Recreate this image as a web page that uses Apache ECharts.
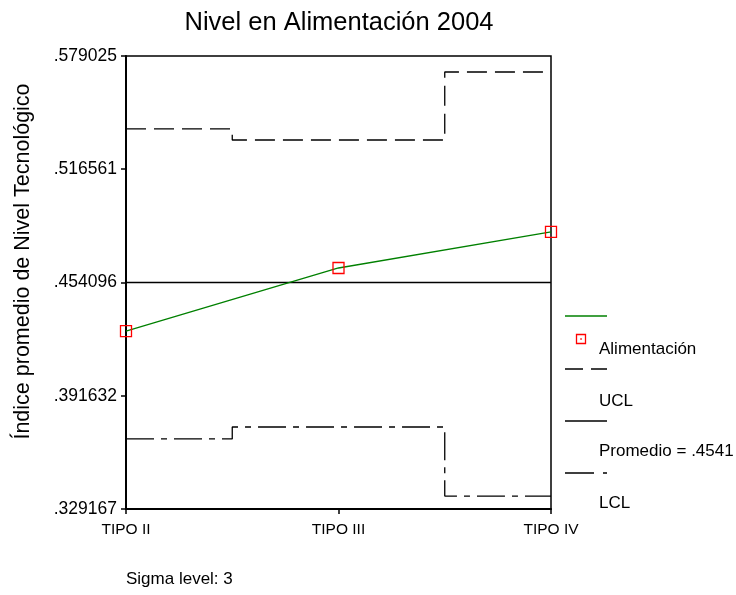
<!DOCTYPE html>
<html><head><meta charset="utf-8">
<script src="https://cdn.jsdelivr.net/npm/echarts@6/dist/echarts.min.js"></script>
<style>html,body{margin:0;padding:0;background:#fff}#c{width:736px;height:595px}</style>
</head><body><div id="c"></div>
<script>
const categories = ['TIPO II', 'TIPO III', 'TIPO IV'];
const alimentacion = [0.4273, 0.4621, 0.4820];
const ucl = [0.5388, 0.5327, 0.5702];
const lcl = [0.3678, 0.3744, 0.3363];
const promedio = [0.454096, 0.454096, 0.454096];
const yTicks = [0.329167, 0.391632, 0.454096, 0.516561, 0.579025];
const yMin = 0.329167, yMax = 0.579025;

const F = 'Liberation Sans, Arial, sans-serif';
const UCL_DASH = [20, 8];
const LCL_DASH = [28, 7, 6, 7];
const chart = echarts.init(document.getElementById('c'), null, {renderer: 'canvas'});
chart.setOption({
  animation: false,
  backgroundColor: '#fff',
  title: {text: 'Nivel en Alimentación 2004', left: 334, top: 5, textAlign: 'center',
    textStyle: {fontFamily: F, fontSize: 25.5, fontWeight: 'normal', color: '#000'}},
  grid: {left: 126, right: 185, top: 56, bottom: 86, show: true, borderColor: '#000', borderWidth: 1.5},
  xAxis: {type: 'category', data: categories, boundaryGap: false,
    axisLine: {lineStyle: {color: '#000', width: 2}},
    axisTick: {show: true, alignWithLabel: true, length: 5, lineStyle: {color: '#000', width: 1.5}},
    axisLabel: {fontFamily: F, fontSize: 15.5, color: '#000', margin: 13},
    splitLine: {show: false}},
  yAxis: {type: 'value', min: yMin, max: yMax,
    name: 'Índice promedio de Nivel Tecnológico', nameLocation: 'middle', nameGap: 92,
    nameTextStyle: {fontFamily: F, fontSize: 21.5, color: '#000', padding: [0, 0, 0, 42]},
    axisLine: {show: true, lineStyle: {color: '#000', width: 2}},
    axisTick: {show: true, length: 5, customValues: yTicks, lineStyle: {color: '#000', width: 1.5}},
    axisLabel: {customValues: yTicks, fontFamily: F, fontSize: 17.5, color: '#000', margin: 9,
      formatter: v => v.toFixed(6).replace(/^0/, '')},
    splitLine: {show: false}},
  series: [
    {name: 'UCL', type: 'line', step: 'middle', data: ucl, symbol: 'none',
      lineStyle: {color: '#000', width: 1.3, type: UCL_DASH}},
    {name: 'Promedio', type: 'line', data: promedio, symbol: 'none',
      lineStyle: {color: '#000', width: 1.3}},
    {name: 'LCL', type: 'line', step: 'middle', data: lcl, symbol: 'none',
      lineStyle: {color: '#000', width: 1.3, type: LCL_DASH}},
    {name: 'Alimentación', type: 'line', data: alimentacion, symbol: 'rect', symbolSize: 11,
      itemStyle: {color: 'rgba(0,0,0,0)', borderColor: '#ff0000', borderWidth: 1.3},
      lineStyle: {color: '#008000', width: 1.3}, z: 5}
  ],
  graphic: [
    {type: 'line', shape: {x1: 565, y1: 316, x2: 607, y2: 316}, style: {stroke: '#008000', lineWidth: 1.3}},
    {type: 'rect', shape: {x: 576.5, y: 334.5, width: 9, height: 9}, style: {fill: 'none', stroke: '#ff0000', lineWidth: 1.3}},
    {type: 'rect', shape: {x: 580.3, y: 338.3, width: 1.5, height: 1.5}, style: {fill: '#ff0000'}},
    {type: 'text', style: {x: 599, y: 349, verticalAlign: 'middle', text: 'Alimentación', font: '17px ' + F, fill: '#000'}},
    {type: 'line', shape: {x1: 565, y1: 369, x2: 607, y2: 369}, style: {stroke: '#000', lineWidth: 1.3, lineDash: [18, 8]}},
    {type: 'text', style: {x: 599, y: 401, verticalAlign: 'middle', text: 'UCL', font: '17px ' + F, fill: '#000'}},
    {type: 'line', shape: {x1: 565, y1: 421, x2: 607, y2: 421}, style: {stroke: '#000', lineWidth: 1.3}},
    {type: 'text', style: {x: 599, y: 451, verticalAlign: 'middle', text: 'Promedio = .4541', font: '17px ' + F, fill: '#000'}},
    {type: 'line', shape: {x1: 565, y1: 473, x2: 607, y2: 473}, style: {stroke: '#000', lineWidth: 1.3, lineDash: [29, 9, 4, 9]}},
    {type: 'text', style: {x: 599, y: 503, verticalAlign: 'middle', text: 'LCL', font: '17px ' + F, fill: '#000'}},
    {type: 'text', style: {x: 126, y: 579, verticalAlign: 'middle', text: 'Sigma level: 3', font: '17px ' + F, fill: '#000'}}
  ]
});
</script></body></html>
